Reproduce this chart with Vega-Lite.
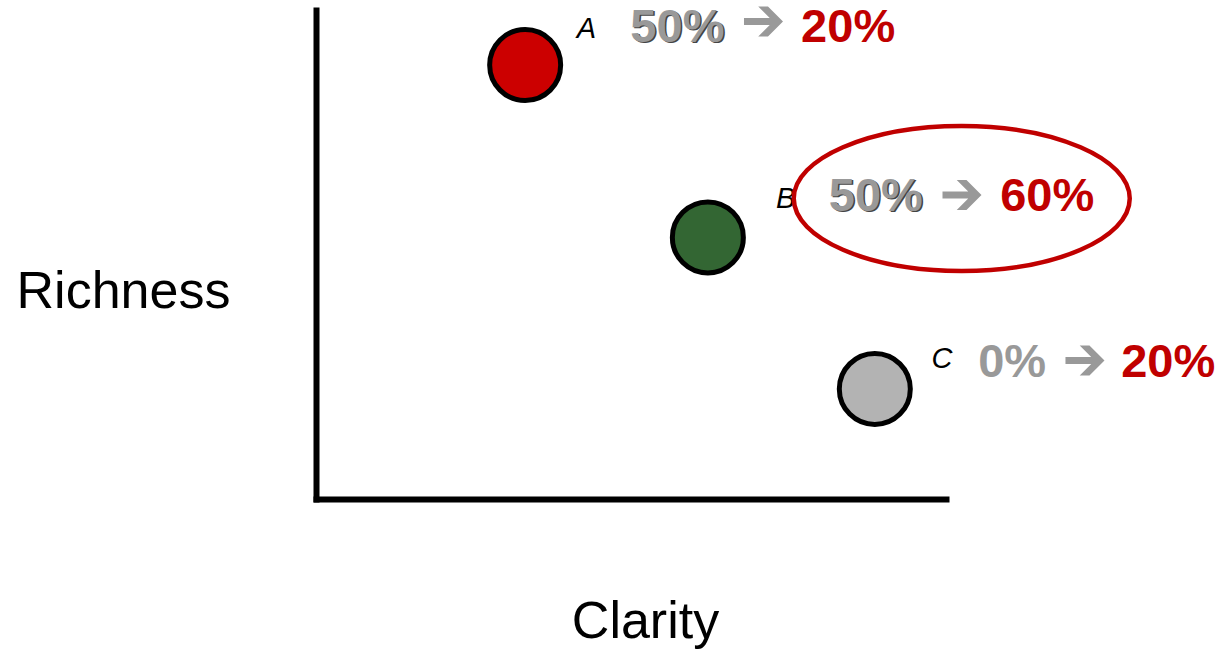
{
  "$schema": "https://vega.github.io/schema/vega-lite/v6.json",
  "autosize": {"type": "none"},
  "padding": {"left": 316, "top": 10, "right": 276, "bottom": 152},
  "width": 630,
  "height": 489,
  "background": "white",
  "config": {
    "view": {"stroke": null},
    "font": "Liberation Sans",
    "axis": {
      "domainColor": "black",
      "domainWidth": 6,
      "domainCap": "square",
      "ticks": false,
      "labels": false,
      "grid": false,
      "titleFont": "Liberation Sans",
      "titleFontWeight": "normal",
      "titleColor": "black",
      "titleFontSize": 52
    }
  },
  "datasets": {
    "points": [
      {"name": "A", "clarity": 33.2, "richness": 88.75},
      {"name": "B", "clarity": 62.2, "richness": 53.5},
      {"name": "C", "clarity": 88.7, "richness": 22.5}
    ],
    "names": [
      {"name": "A", "clarity": 41.4, "richness": 94.3},
      {"name": "B", "clarity": 73.0, "richness": 59.5},
      {"name": "C", "clarity": 97.7, "richness": 26.8}
    ],
    "values": [
      {"name": "A", "part": "before", "label": "50%", "clarity": 49.9, "richness": 93.5},
      {"name": "A", "part": "after", "label": "20%", "clarity": 77.0, "richness": 93.5},
      {"name": "B", "part": "before", "label": "50%", "clarity": 81.4, "richness": 58.9},
      {"name": "B", "part": "after", "label": "60%", "clarity": 108.6, "richness": 58.9},
      {"name": "C", "part": "before", "label": "0%", "clarity": 105.1, "richness": 24.9},
      {"name": "C", "part": "after", "label": "20%", "clarity": 127.8, "richness": 24.9}
    ],
    "arrows": [
      {"name": "A", "clarity": 71.03, "richness": 97.65},
      {"name": "B", "clarity": 102.54, "richness": 62.17},
      {"name": "C", "clarity": 122.06, "richness": 28.32}
    ],
    "highlight": [
      {"name": "B", "clarity": 102.5, "richness": 61.45}
    ]
  },
  "encoding": {
    "x": {
      "field": "clarity",
      "type": "quantitative",
      "scale": {"domain": [0, 100], "nice": false, "zero": false},
      "axis": {"title": "Clarity", "titleX": 329, "titleY": 138, "titleBaseline": "alphabetic", "titleAlign": "center", "titleAnchor": null}
    },
    "y": {
      "field": "richness",
      "type": "quantitative",
      "scale": {"domain": [0, 100], "nice": false, "zero": false},
      "axis": {"title": "Richness", "titleAngle": 0, "titleX": -193, "titleY": 297, "titleAlign": "center", "titleBaseline": "alphabetic", "titleAnchor": null}
    }
  },
  "layer": [
    {
      "data": {"name": "points"},
      "mark": {"type": "point", "filled": true, "shape": "circle", "size": 5041, "stroke": "black", "strokeWidth": 5, "opacity": 1, "clip": false},
      "encoding": {
        "fill": {
          "field": "name",
          "type": "nominal",
          "scale": {"domain": ["A", "B", "C"], "range": ["#cc0000", "#336633", "#b3b3b3"]},
          "legend": null
        }
      }
    },
    {
      "data": {"name": "names"},
      "mark": {"type": "text", "align": "left", "baseline": "alphabetic", "fontStyle": "italic", "fontSize": 29, "font": "Liberation Sans", "color": "black", "clip": false},
      "encoding": {"text": {"field": "name"}}
    },
    {
      "data": {"name": "values"},
      "transform": [{"filter": "datum.label === '50%'"}],
      "mark": {"type": "text", "align": "left", "baseline": "alphabetic", "fontWeight": "bold", "fontSize": 47, "font": "Liberation Sans", "color": "#444444", "dx": 1.5, "dy": 1, "clip": false},
      "encoding": {"text": {"field": "label"}}
    },
    {
      "data": {"name": "values"},
      "mark": {"type": "text", "align": "left", "baseline": "alphabetic", "fontWeight": "bold", "fontSize": 47, "font": "Liberation Sans", "clip": false},
      "encoding": {
        "text": {"field": "label"},
        "color": {
          "field": "part",
          "type": "nominal",
          "scale": {"domain": ["before", "after"], "range": ["#999999", "#c00000"]},
          "legend": null
        }
      }
    },
    {
      "data": {"name": "arrows"},
      "mark": {
        "type": "point",
        "shape": "M 1 0 L 0.23 0.77 L -0.27 0.77 L 0.32 0.18 L -1 0.18 L -1 -0.18 L 0.32 -0.18 L -0.27 -0.77 L 0.23 -0.77 Z",
        "size": 1521,
        "filled": true,
        "fill": "#999999",
        "strokeWidth": 0,
        "opacity": 1,
        "clip": false
      },
      "encoding": {}
    },
    {
      "data": {"name": "highlight"},
      "mark": {
        "type": "point",
        "shape": "M -1 0 C -1 -0.2383 -0.5523 -0.4315 0 -0.4315 C 0.5523 -0.4315 1 -0.2383 1 0 C 1 0.2383 0.5523 0.4315 0 0.4315 C -0.5523 0.4315 -1 0.2383 -1 0 Z",
        "size": 112896,
        "filled": false,
        "stroke": "#c00000",
        "strokeWidth": 4.5,
        "opacity": 1,
        "clip": false
      },
      "encoding": {}
    }
  ]
}
